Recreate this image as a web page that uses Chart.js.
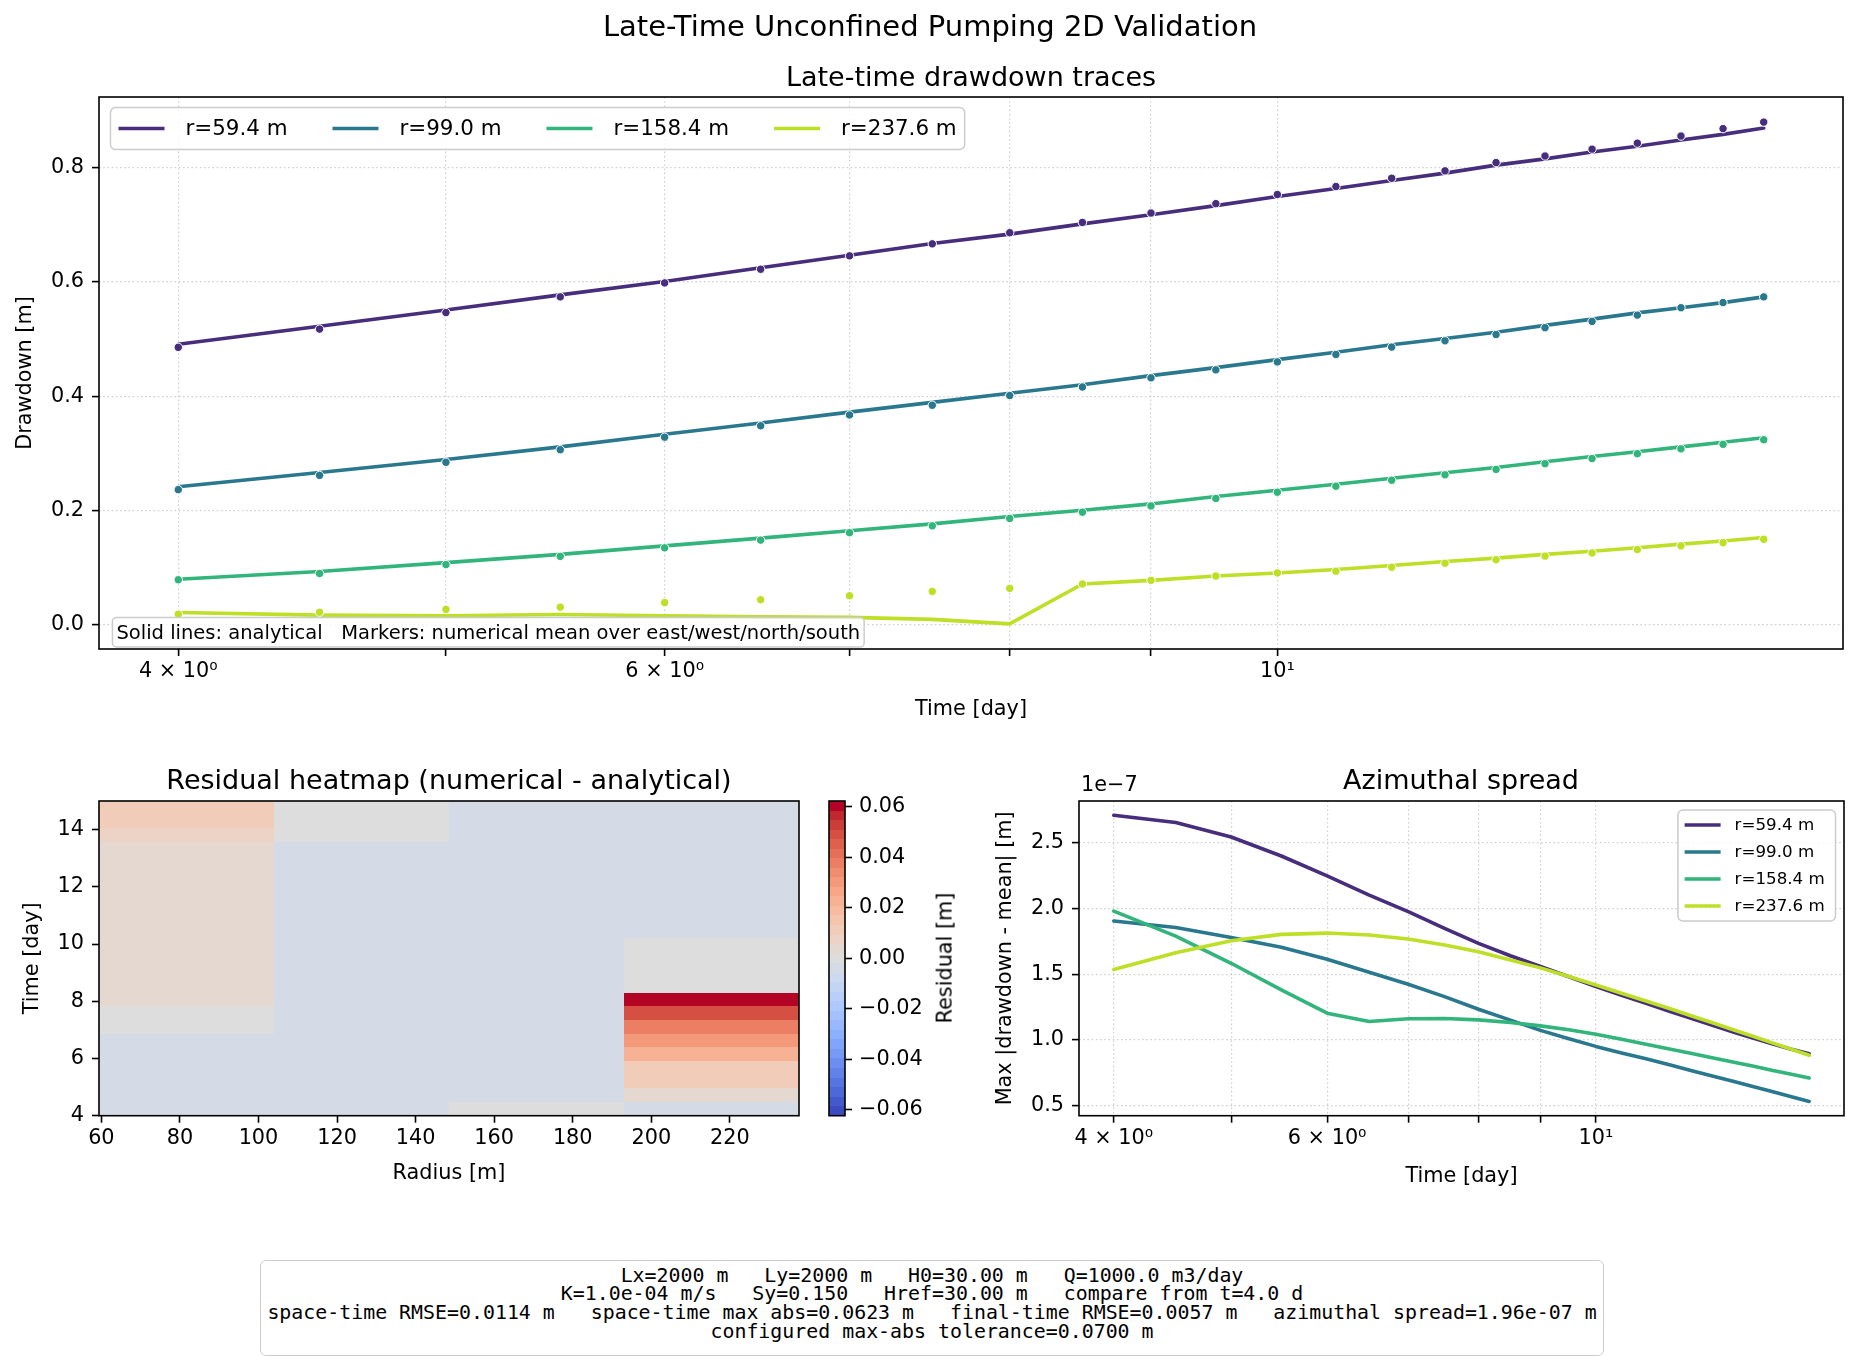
<!DOCTYPE html>
<html lang="en">
<head>
<meta charset="UTF-8" />
<title>Late-Time Unconfined Pumping 2D Validation</title>
<script src="https://cdn.jsdelivr.net/npm/chart.js"></script>
<style>
  body { margin: 0; background: #fff; }
  #fig { position: relative; width: 1860px; height: 1366px; overflow: hidden;
         font-family: "DejaVu Sans", sans-serif; color: #000; }
  #fig canvas { position: absolute; }
  .ttl { position: absolute; white-space: nowrap; transform: translate(-50%, -50%);
         font-size: 27px; line-height: 1; }
  #suptitle { font-size: 29px; }
  #cbLabel { position: absolute; left: 945px; top: 958px; white-space: nowrap;
             font-size: 20.8px; line-height: 1; transform: translate(-50%, -50%) rotate(-90deg); }
  #stats { position: absolute; left: 260px; top: 1260px; width: 1344px; height: 96px;
           box-sizing: border-box; border: 1.5px solid #cccccc; border-radius: 6px; background: #fff;
           padding-bottom: 8px;
           display: flex; flex-direction: column; justify-content: center; align-items: center;
           font-family: "DejaVu Sans Mono", monospace; font-size: 19.9px; line-height: 18.6px; }
  #stats div { white-space: pre; }
</style>
</head>
<body>
<div id="fig">
  <canvas id="cTop"  width="1860" height="740" style="left:0;top:0;width:1860px;height:740px"></canvas>
  <canvas id="cHeat" width="820"  height="540" style="left:0;top:740px;width:820px;height:540px"></canvas>
  <canvas id="cBar"  width="200"  height="540" style="left:800px;top:740px;width:200px;height:540px"></canvas>
  <canvas id="cAz"   width="900"  height="540" style="left:960px;top:740px;width:900px;height:540px"></canvas>

  <div class="ttl" id="suptitle" style="left:930px;top:26px">Late-Time Unconfined Pumping 2D Validation</div>
  <div class="ttl" style="left:971px;top:76px">Late-time drawdown traces</div>
  <div class="ttl" style="left:449px;top:779px">Residual heatmap (numerical - analytical)</div>
  <div class="ttl" style="left:1461px;top:779px">Azimuthal spread</div>
  <div id="cbLabel">Residual [m]</div>

  <div id="stats">
    <div>Lx=2000 m   Ly=2000 m   H0=30.00 m   Q=1000.0 m3/day</div>
    <div>K=1.0e-04 m/s   Sy=0.150   Href=30.00 m   compare from t=4.0 d</div>
    <div>space-time RMSE=0.0114 m   space-time max abs=0.0623 m   final-time RMSE=0.0057 m   azimuthal spread=1.96e-07 m</div>
    <div>configured max-abs tolerance=0.0700 m</div>
  </div>
</div>

<script>
// ---------------- data ----------------
const times = [4.0, 4.5, 5.0, 5.5, 6.0, 6.5, 7.0, 7.5, 8.0, 8.5, 9.0, 9.5,
               10.0, 10.5, 11.0, 11.5, 12.0, 12.5, 13.0, 13.5, 14.0, 14.5, 15.0];
const radii = [59.4, 99.0, 158.4, 237.6];
const radiusLabels = ['r=59.4 m', 'r=99.0 m', 'r=158.4 m', 'r=237.6 m'];

// analytical drawdown [m] (solid lines)
const analytical59  = [0.491, 0.5225, 0.551, 0.5775, 0.601, 0.625, 0.647, 0.6675, 0.684, 0.702, 0.718, 0.734,
                       0.750, 0.764, 0.778, 0.791, 0.805, 0.816, 0.828, 0.838, 0.849, 0.859, 0.870];
const analytical99  = [0.241, 0.266, 0.289, 0.311, 0.333, 0.353, 0.372, 0.389, 0.405, 0.420, 0.436, 0.450,
                       0.464, 0.477, 0.490, 0.501, 0.512, 0.524, 0.535, 0.546, 0.555, 0.564, 0.574];
const analytical158 = [0.079, 0.0925, 0.108, 0.1225, 0.1375, 0.151, 0.164, 0.176, 0.189, 0.200, 0.211, 0.224,
                       0.235, 0.2455, 0.256, 0.2655, 0.275, 0.285, 0.294, 0.3025, 0.311, 0.319, 0.327];
const analytical238 = [0.0205, 0.016, 0.015, 0.017, 0.015, 0.013, 0.012, 0.0085, 0.0006, 0.0706, 0.077, 0.0845,
                       0.090, 0.096, 0.103, 0.110, 0.116, 0.1225, 0.128, 0.134, 0.1405, 0.146, 0.152];

// numerical mean drawdown over east/west/north/south [m] (markers)
const numerical59  = [0.4855, 0.5175, 0.5465, 0.574, 0.5985, 0.6225, 0.646, 0.667, 0.6865, 0.7045, 0.721, 0.7375,
                      0.7535, 0.7675, 0.782, 0.795, 0.8095, 0.821, 0.833, 0.8435, 0.856, 0.869, 0.8805];
const numerical99  = [0.236, 0.261, 0.284, 0.306, 0.328, 0.348, 0.367, 0.384, 0.401, 0.416, 0.432, 0.446,
                      0.460, 0.473, 0.486, 0.497, 0.508, 0.520, 0.531, 0.542, 0.555, 0.564, 0.574];
const numerical158 = [0.078, 0.089, 0.1045, 0.119, 0.134, 0.1475, 0.1605, 0.1725, 0.1855, 0.1965, 0.2075, 0.2205,
                      0.2315, 0.242, 0.2525, 0.262, 0.2715, 0.2815, 0.2905, 0.299, 0.3075, 0.3155, 0.3235];
const numerical238 = [0.0175, 0.021, 0.026, 0.030, 0.038, 0.043, 0.050, 0.0575, 0.0629, 0.0706, 0.077, 0.0845,
                      0.090, 0.093, 0.100, 0.107, 0.113, 0.1195, 0.125, 0.131, 0.1375, 0.143, 0.149];

// azimuthal spread max |drawdown - mean|, in units of 1e-7 m
const spread59  = [2.71, 2.655, 2.545, 2.40, 2.249, 2.102, 1.976, 1.849, 1.735, 1.640, 1.558, 1.480,
                   1.405, 1.340, 1.278, 1.218, 1.162, 1.108, 1.058, 1.012, 0.968, 0.928, 0.893];
const spread99  = [1.905, 1.855, 1.780, 1.705, 1.613, 1.514, 1.423, 1.329, 1.233, 1.150, 1.072, 1.008,
                   0.950, 0.900, 0.855, 0.810, 0.765, 0.722, 0.682, 0.643, 0.604, 0.567, 0.531];
const spread158 = [1.98, 1.79, 1.583, 1.38, 1.203, 1.139, 1.16, 1.162, 1.152, 1.132, 1.106, 1.076,
                   1.043, 1.005, 0.967, 0.930, 0.895, 0.861, 0.829, 0.798, 0.767, 0.738, 0.709];
const spread238 = [1.535, 1.664, 1.755, 1.803, 1.813, 1.798, 1.768, 1.722, 1.671, 1.608, 1.548, 1.482,
                   1.418, 1.355, 1.295, 1.238, 1.182, 1.128, 1.075, 1.025, 0.975, 0.928, 0.882];

// tick positions / labels
const logTicks = [4, 5, 6, 7, 8, 9, 10];
const logTickLabels = { 4: '4 × 10⁰', 6: '6 × 10⁰', 10: '10¹' };
const drawdownTicks = [0.0, 0.2, 0.4, 0.6, 0.8];
const radiusTicks = [60, 80, 100, 120, 140, 160, 180, 200, 220];
const timeTicks = [4, 6, 8, 10, 12, 14];
const residualTicks = [-0.06, -0.04, -0.02, 0.0, 0.02, 0.04, 0.06];
const spreadTicks = [0.5, 1.0, 1.5, 2.0, 2.5];

const analytical = [analytical59, analytical99, analytical158, analytical238];
const numerical = [numerical59, numerical99, numerical158, numerical238];
const spread = [spread59, spread99, spread158, spread238];

// ---------------- style ----------------
const seriesColors = ['#472d7b', '#2a788e', '#31b57b', '#bddf26'];
// coolwarm sampled at 33 levels
const coolwarm33 = [
  [59,76,192],[68,90,204],[77,104,215],[87,117,225],[98,130,234],[108,142,241],[119,154,247],[130,165,251],
  [141,176,254],[152,185,255],[163,194,255],[174,201,253],[184,208,249],[194,213,244],[204,217,238],[213,219,230],
  [221,221,221],[229,216,209],[236,211,197],[241,204,184],[245,196,172],[247,187,160],[247,177,148],[247,166,135],
  [244,154,123],[241,141,111],[236,127,99],[229,112,88],[222,96,77],[213,80,66],[203,62,56],[192,40,47],[180,4,38]
];
const FONT = '"DejaVu Sans", sans-serif';
const GRID = 'rgba(170,170,170,0.55)';
const LW = 3.6;

Chart.defaults.font.family = FONT;
Chart.defaults.font.size = 20.8;
Chart.defaults.color = '#000';
Chart.defaults.animation = false;
Chart.defaults.events = [];
Chart.defaults.plugins.legend.display = false;
Chart.defaults.plugins.tooltip.enabled = false;

function padRange(lo, hi) { const d = (hi - lo) * 0.05; return [lo - d, hi + d]; }
function padLogRange(lo, hi) {
  const a = Math.log10(lo), b = Math.log10(hi), d = (b - a) * 0.05;
  return [Math.pow(10, a - d), Math.pow(10, b + d)];
}
const tRange = padLogRange(times[0], times[times.length - 1]);
const allDrawdown = analytical.flat().concat(numerical.flat());
const ddRange = padRange(Math.min(...allDrawdown), Math.max(...allDrawdown));
const allSpread = spread.flat();
const spRange = padRange(Math.min(...allSpread), Math.max(...allSpread));

// residual grid (numerical - analytical), one column per radius
const residual = radii.map((r, c) => times.map((t, k) => numerical[c][k] - analytical[c][k]));
const vmax = Math.max(...residual.flat().map(Math.abs));
function residualColor(v) {
  let i = Math.floor((v + vmax) / (2 * vmax) * coolwarm33.length);
  i = Math.max(0, Math.min(coolwarm33.length - 1, i));
  const c = coolwarm33[i];
  return `rgb(${c[0]},${c[1]},${c[2]})`;
}

function fixedTicks(list) { return scale => { scale.ticks = list.map(v => ({ value: v })); }; }

function axis(opts) {
  return Object.assign({
    border: { display: false, dash: [1.6, 2.6] },
    grid: { color: GRID, lineWidth: 1.2, tickColor: '#000', tickWidth: 1.6, tickLength: 7, drawOnChartArea: true },
  }, opts);
}

// black frame around the plot area
const framePlugin = {
  id: 'frame',
  afterDatasetsDraw(chart) {
    const a = chart.chartArea, ctx = chart.ctx;
    ctx.save();
    ctx.strokeStyle = '#000';
    ctx.lineWidth = 1.6;
    ctx.strokeRect(a.left, a.top, a.right - a.left, a.bottom - a.top);
    ctx.restore();
  }
};

function roundRect(ctx, x, y, w, h, r) {
  ctx.beginPath();
  ctx.moveTo(x + r, y);
  ctx.arcTo(x + w, y, x + w, y + h, r);
  ctx.arcTo(x + w, y + h, x, y + h, r);
  ctx.arcTo(x, y + h, x, y, r);
  ctx.arcTo(x, y, x + w, y, r);
  ctx.closePath();
}

function drawLegend(ctx, o) {
  ctx.save();
  ctx.font = o.fs + 'px ' + FONT;
  const widths = o.labels.map(l => ctx.measureText(l).width);
  const cells = [];
  let w, h;
  if (o.horizontal) {
    let x = o.pad;
    o.labels.forEach((l, i) => {
      cells.push({ x: x, y: o.pad + o.rowH / 2 });
      x += o.hl + o.tp + widths[i] + (i < o.labels.length - 1 ? o.cs : 0);
    });
    w = x + o.pad;
    h = 2 * o.pad + o.rowH;
  } else {
    o.labels.forEach((l, i) => cells.push({ x: o.pad, y: o.pad + o.rowH / 2 + i * (o.rowH + o.ls) }));
    w = 2 * o.pad + o.hl + o.tp + Math.max(...widths) + o.extraW;
    h = 2 * o.pad + o.labels.length * o.rowH + (o.labels.length - 1) * o.ls;
  }
  const x0 = o.right !== undefined ? o.right - w : o.left;
  const y0 = o.top;
  roundRect(ctx, x0, y0, w, h, 5);
  ctx.fillStyle = 'rgba(255,255,255,0.8)';
  ctx.fill();
  ctx.strokeStyle = '#cccccc';
  ctx.lineWidth = 1.5;
  ctx.stroke();
  ctx.textBaseline = 'middle';
  ctx.textAlign = 'left';
  cells.forEach((c, i) => {
    ctx.strokeStyle = o.colors[i];
    ctx.lineWidth = LW;
    ctx.beginPath();
    ctx.moveTo(x0 + c.x, y0 + c.y);
    ctx.lineTo(x0 + c.x + o.hl, y0 + c.y);
    ctx.stroke();
    ctx.fillStyle = '#000';
    ctx.fillText(o.labels[i], x0 + c.x + o.hl + o.tp, y0 + c.y + 1);
  });
  ctx.restore();
}

// ---------------- top: drawdown traces ----------------
const topDatasets = [];
radii.forEach((r, c) => {
  topDatasets.push({
    label: radiusLabels[c],
    data: times.map((t, k) => ({ x: t, y: analytical[c][k] })),
    borderColor: seriesColors[c], borderWidth: LW, pointRadius: 0,
    borderJoinStyle: 'round', borderCapStyle: 'round', fill: false, tension: 0
  });
});
radii.forEach((r, c) => {
  topDatasets.push({
    label: radiusLabels[c] + ' numerical',
    data: times.map((t, k) => ({ x: t, y: numerical[c][k] })),
    showLine: false, pointRadius: 4.2, pointBackgroundColor: seriesColors[c],
    pointBorderColor: '#ffffff', pointBorderWidth: 1
  });
});
topDatasets.forEach((d, i) => { d.order = -i; });

const topOverlay = {
  id: 'topOverlay',
  afterDatasetsDraw(chart) {
    const ctx = chart.ctx, a = chart.chartArea;
    drawLegend(ctx, {
      labels: radiusLabels, colors: seriesColors, horizontal: true,
      left: a.left + 11.5, top: a.top + 10.5, fs: 21.4, pad: 8, hl: 46, tp: 21, cs: 45, rowH: 26
    });
    // note box, lower left
    const fs = 19.5, note = 'Solid lines: analytical   Markers: numerical mean over east/west/north/south';
    ctx.save();
    ctx.font = fs + 'px ' + FONT;
    const tw = ctx.measureText(note).width;
    const tx = a.left + 0.01 * (a.right - a.left);
    const tb = a.bottom - 0.01 * (a.bottom - a.top);
    roundRect(ctx, tx - 4, tb - 26, tw + 8, 29.5, 4);
    ctx.fillStyle = 'rgba(255,255,255,0.8)';
    ctx.fill();
    ctx.strokeStyle = '#cccccc';
    ctx.lineWidth = 1.5;
    ctx.stroke();
    ctx.fillStyle = '#000';
    ctx.textBaseline = 'alphabetic';
    ctx.fillText(note, tx, tb - 4.5);
    ctx.restore();
  }
};

new Chart(document.getElementById('cTop'), {
  type: 'line',
  data: { datasets: topDatasets },
  options: {
    responsive: false, maintainAspectRatio: false,
    layout: { padding: { left: 0, right: 17, top: 97, bottom: 11 } },
    scales: {
      x: axis({
        type: 'logarithmic', min: tRange[0], max: tRange[1],
        afterBuildTicks: fixedTicks(logTicks),
        afterFit: s => { s.height = 80; },
        ticks: { autoSkip: false, maxRotation: 0, minRotation: 0, padding: 3,
                 callback: v => logTickLabels[v] || '' },
        title: { display: true, text: 'Time [day]', font: { size: 20.8 }, padding: { top: 0, bottom: 6.5 } }
      }),
      y: axis({
        type: 'linear', min: ddRange[0], max: ddRange[1],
        afterBuildTicks: fixedTicks(drawdownTicks),
        afterFit: s => { s.width = 99; },
        ticks: { padding: 8, callback: v => v.toFixed(1) },
        title: { display: true, text: 'Drawdown [m]', font: { size: 20.8 }, padding: { top: 13.5, bottom: 0 } }
      })
    }
  },
  plugins: [framePlugin, topOverlay]
});

// ---------------- bottom left: residual heatmap ----------------
const rEdges = radii.map((r, i) => radii[0] + i * (radii[radii.length - 1] - radii[0]) / radii.length)
  .concat([radii[radii.length - 1]]);
const tEdges = times.map((t, k) => times[0] + k * (times[times.length - 1] - times[0]) / times.length)
  .concat([times[times.length - 1]]);

const heatCells = {
  id: 'heatCells',
  beforeDatasetsDraw(chart) {
    const ctx = chart.ctx, xs = chart.scales.x, ys = chart.scales.y;
    ctx.save();
    residual.forEach((col, c) => {
      const x0 = Math.round(xs.getPixelForValue(rEdges[c]));
      const x1 = Math.round(xs.getPixelForValue(rEdges[c + 1]));
      col.forEach((v, k) => {
        const y0 = Math.round(ys.getPixelForValue(tEdges[k + 1]));
        const y1 = Math.round(ys.getPixelForValue(tEdges[k]));
        ctx.fillStyle = residualColor(v);
        ctx.fillRect(x0, y0, x1 - x0, y1 - y0);
      });
    });
    ctx.restore();
  }
};

new Chart(document.getElementById('cHeat'), {
  type: 'scatter',
  data: { datasets: [{ data: [] }] },
  options: {
    responsive: false, maintainAspectRatio: false,
    layout: { padding: { left: 0, right: 21, top: 61, bottom: 89.3 } },
    scales: {
      x: axis({
        type: 'linear', min: radii[0], max: radii[radii.length - 1],
        afterBuildTicks: fixedTicks(radiusTicks),
        afterFit: s => { s.height = 75; },
        grid: { drawOnChartArea: false, tickColor: '#000', tickWidth: 1.6, tickLength: 7 },
        ticks: { autoSkip: false, maxRotation: 0, padding: 3, callback: v => String(v) },
        title: { display: true, text: 'Radius [m]', font: { size: 20.8 }, padding: { top: 0, bottom: 4.2 } }
      }),
      y: axis({
        type: 'linear', min: times[0], max: times[times.length - 1],
        afterBuildTicks: fixedTicks(timeTicks),
        afterFit: s => { s.width = 99; },
        grid: { drawOnChartArea: false, tickColor: '#000', tickWidth: 1.6, tickLength: 7 },
        ticks: { padding: 8, callback: v => String(v) },
        title: { display: true, text: 'Time [day]', font: { size: 20.8 }, padding: { top: 20.5, bottom: 0 } }
      })
    }
  },
  plugins: [heatCells, framePlugin]
});

// ---------------- colorbar ----------------
const colorbarBands = {
  id: 'colorbarBands',
  beforeDatasetsDraw(chart) {
    const ctx = chart.ctx, a = chart.chartArea, ys = chart.scales.y;
    const n = coolwarm33.length;
    ctx.save();
    for (let i = 0; i < n; i++) {
      const v0 = -vmax + i * 2 * vmax / n, v1 = -vmax + (i + 1) * 2 * vmax / n;
      const y0 = Math.round(ys.getPixelForValue(v1)), y1 = Math.round(ys.getPixelForValue(v0));
      const c = coolwarm33[i];
      ctx.fillStyle = `rgb(${c[0]},${c[1]},${c[2]})`;
      ctx.fillRect(a.left, y0, a.right - a.left, y1 - y0);
    }
    ctx.restore();
  }
};

new Chart(document.getElementById('cBar'), {
  type: 'scatter',
  data: { datasets: [{ data: [] }] },
  options: {
    responsive: false, maintainAspectRatio: false,
    layout: { padding: { left: 29, right: 0, top: 61, bottom: 164.3 } },
    scales: {
      x: { type: 'linear', display: false, min: 0, max: 1 },
      y: axis({
        type: 'linear', position: 'right', min: -vmax, max: vmax,
        afterBuildTicks: fixedTicks(residualTicks),
        afterFit: s => { s.width = 155; },
        grid: { drawOnChartArea: false, tickColor: '#000', tickWidth: 1.6, tickLength: 7 },
        ticks: { padding: 7, callback: v => (v < 0 ? '−' : '') + Math.abs(v).toFixed(2) }
      })
    }
  },
  plugins: [colorbarBands, framePlugin]
});

// ---------------- bottom right: azimuthal spread ----------------
const azOverlay = {
  id: 'azOverlay',
  afterDatasetsDraw(chart) {
    const ctx = chart.ctx, a = chart.chartArea;
    drawLegend(ctx, {
      labels: radiusLabels, colors: seriesColors, horizontal: false,
      right: a.right - 8.5, top: a.top + 9, fs: 16.7, pad: 6.7, hl: 36, tp: 14, ls: 10.4, rowH: 16.6, extraW: 4
    });
    ctx.save();
    ctx.font = '20.8px ' + FONT;
    ctx.fillStyle = '#000';
    ctx.textAlign = 'left';
    ctx.textBaseline = 'alphabetic';
    ctx.fillText('1e−7', a.left + 2, a.top - 10);
    ctx.restore();
  }
};

new Chart(document.getElementById('cAz'), {
  type: 'line',
  data: {
    datasets: radii.map((r, c) => ({
      label: radiusLabels[c],
      data: times.map((t, k) => ({ x: t, y: spread[c][k] })),
      borderColor: seriesColors[c], borderWidth: LW, pointRadius: 0,
      borderJoinStyle: 'round', borderCapStyle: 'round', fill: false, tension: 0,
      order: -c
    }))
  },
  options: {
    responsive: false, maintainAspectRatio: false,
    layout: { padding: { left: 0, right: 16, top: 61, bottom: 89.3 } },
    scales: {
      x: axis({
        type: 'logarithmic', min: tRange[0], max: tRange[1],
        afterBuildTicks: fixedTicks(logTicks),
        afterFit: s => { s.height = 75; },
        ticks: { autoSkip: false, maxRotation: 0, minRotation: 0, padding: 3,
                 callback: v => logTickLabels[v] || '' },
        title: { display: true, text: 'Time [day]', font: { size: 20.8 }, padding: { top: 0, bottom: 1.2 } }
      }),
      y: axis({
        type: 'linear', min: spRange[0], max: spRange[1],
        afterBuildTicks: fixedTicks(spreadTicks),
        afterFit: s => { s.width = 119; },
        ticks: { padding: 8, callback: v => v.toFixed(1) },
        title: { display: true, text: 'Max |drawdown - mean| [m]', font: { size: 20.8 }, padding: { top: 33.5, bottom: 0 } }
      })
    }
  },
  plugins: [framePlugin, azOverlay]
});
</script>
</body>
</html>
